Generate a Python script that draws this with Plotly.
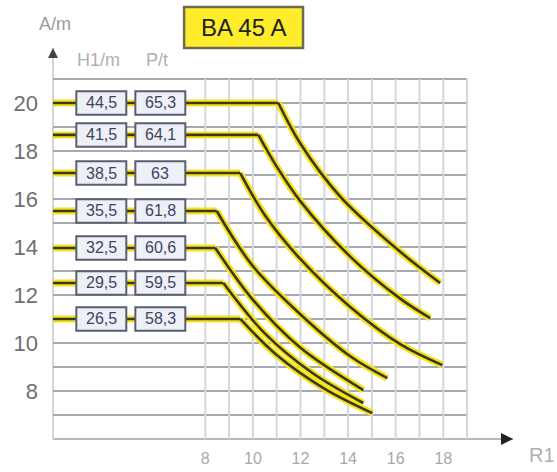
import plotly.graph_objects as go

# Each curve: flat level up to the break point, then a falling branch.
levels = [20.0, 18.67, 17.08, 15.5, 13.96, 12.5, 11.0]
fall_x = [
    [11.07, 12.0, 13.67, 16.19, 17.87],
    [10.23, 11.0, 12.0, 14.09, 16.19, 17.45],
    [9.47, 10.52, 11.99, 14.09, 16.19, 17.96],
    [8.48, 10.0, 11.99, 14.09, 15.65],
    [8.42, 10.0, 12.0, 14.64],
    [8.76, 10.5, 12.5, 14.64],
    [9.47, 11.0, 13.0, 15.02],
]
fall_y = [
    [20.0, 18.3, 16.1, 13.8, 12.5],
    [18.67, 17.35, 15.9, 13.6, 11.85, 11.04],
    [17.08, 15.3, 13.5, 11.5, 9.95, 9.08],
    [15.5, 13.2, 11.2, 9.45, 8.54],
    [13.96, 11.8, 9.8, 8.04],
    [12.5, 10.4, 8.75, 7.5],
    [11.0, 9.5, 8.1, 7.08],
]
h1_labels = ["44,5", "41,5", "38,5", "35,5", "32,5", "29,5", "26,5"]
pt_labels = ["65,3", "64,1", "63", "61,8", "60,6", "59,5", "58,3"]

x_ticks = [8, 10, 12, 14, 16, 18]
y_ticks = [8, 10, 12, 14, 16, 18, 20]

X_MIN, X_MAX = 1.6, 20.93
Y_MIN, Y_MAX = 6.0, 22.29
GRID_X_END = 19
GRID_Y_TOP = 21

YELLOW = "#f4e41c"
DARK = "#3c3620"
FONT = "Liberation Sans"

fig = go.Figure()


def add_line(xs, ys, shape):
    fig.add_trace(go.Scatter(x=xs, y=ys, mode="lines", line_shape=shape,
                             line=dict(color=YELLOW, width=7),
                             hoverinfo="skip", showlegend=False))


def add_core(xs, ys, shape):
    fig.add_trace(go.Scatter(x=xs, y=ys, mode="lines", line_shape=shape,
                             line=dict(color=DARK, width=2.6),
                             hoverinfo="skip", showlegend=False))


for lvl, xs, ys in zip(levels, fall_x, fall_y):
    add_line([X_MIN, xs[0]], [lvl, lvl], "linear")
    add_line(xs, ys, "spline")
for lvl, xs, ys in zip(levels, fall_x, fall_y):
    add_core([X_MIN, xs[0]], [lvl, lvl], "linear")
    add_core(xs, ys, "spline")

shapes = []
# horizontal grid
for v in range(7, GRID_Y_TOP + 1):
    shapes.append(dict(type="line", xref="x", yref="y", x0=X_MIN, x1=GRID_X_END,
                       y0=v, y1=v, line=dict(color="#a8a8b0", width=2), layer="below"))
# vertical grid
for v in range(8, GRID_X_END + 1):
    shapes.append(dict(type="line", xref="x", yref="y", x0=v, x1=v,
                       y0=Y_MIN, y1=GRID_Y_TOP, line=dict(color="#d6d6de", width=2), layer="below"))
# axes
shapes.append(dict(type="line", xref="paper", yref="paper", x0=0, x1=1, y0=0, y1=0,
                   line=dict(color="#b8b8b8", width=2), layer="below"))
shapes.append(dict(type="line", xref="paper", yref="paper", x0=0, x1=0, y0=0, y1=1,
                   line=dict(color="#d4d4d4", width=2), layer="below"))

annotations = []
# value boxes
for lvl, h1, pt in zip(levels, h1_labels, pt_labels):
    for (x0, x1), txt in (((2.58, 4.68), h1), ((5.06, 7.16), pt)):
        shapes.append(dict(type="rect", xref="x", yref="y", x0=x0, x1=x1,
                           y0=lvl - 0.49, y1=lvl + 0.49,
                           fillcolor="#eef0f8", line=dict(color="#5a5e6e", width=2)))
        annotations.append(dict(x=(x0 + x1) / 2, y=lvl, xref="x", yref="y", text=txt,
                                showarrow=False, xanchor="center", yanchor="middle",
                                font=dict(family=FONT, size=16, color="#3e4460")))

# title box
shapes.append(dict(type="rect", xref="paper", yref="paper", x0=0.285, x1=0.5435,
                   y0=1.0, y1=1.105, fillcolor="#ffec2a", line=dict(color="#6e6a50", width=2.5)))
annotations.append(dict(x=0.414, y=1.0525, xref="paper", yref="paper", text="BA 45 A",
                        showarrow=False, xanchor="center", yanchor="middle",
                        font=dict(family=FONT, size=24, color="#222222")))

# axis captions
annotations += [
    dict(x=-0.035, y=1.062, xref="paper", yref="paper", text="A/m", showarrow=False,
         xanchor="left", yanchor="middle",
         font=dict(family=FONT, size=18, color="#9a9a9a")),
    dict(x=0.048, y=0.969, xref="paper", yref="paper", text="H1/m", showarrow=False,
         xanchor="left", yanchor="middle",
         font=dict(family=FONT, size=18, color="#b0b0b0")),
    dict(x=0.198, y=0.969, xref="paper", yref="paper", text="P/t", showarrow=False,
         xanchor="left", yanchor="middle",
         font=dict(family=FONT, size=18, color="#b0b0b0")),
    dict(x=1.03, y=-0.041, xref="paper", yref="paper", text="R1", showarrow=False,
         xanchor="left", yanchor="middle",
         font=dict(family=FONT, size=20, color="#b0b0b0")),
    # arrowheads
    dict(x=1, y=0, xref="paper", yref="paper", ax=-8, ay=0, showarrow=True,
         arrowhead=2, arrowsize=1.2, arrowwidth=2, arrowcolor="#222222", text=""),
    dict(x=0, y=1, xref="paper", yref="paper", ax=0, ay=8, showarrow=True,
         arrowhead=2, arrowsize=1.0, arrowwidth=2, arrowcolor="#444444", text=""),
]

fig.update_layout(
    width=557, height=472,
    margin=dict(l=53, r=44, t=48, b=33, autoexpand=False),
    paper_bgcolor="white", plot_bgcolor="white",
    shapes=shapes, annotations=annotations,
    xaxis=dict(range=[X_MIN, X_MAX], showgrid=False, zeroline=False, showline=False,
               automargin=False, tickvals=x_ticks, ticks="", ticklabelstandoff=8,
               tickfont=dict(family=FONT, size=16, color="#a8a8a8")),
    yaxis=dict(range=[Y_MIN, Y_MAX], showgrid=False, zeroline=False, showline=False,
               automargin=False, tickvals=y_ticks, ticks="", ticklabelstandoff=14,
               tickfont=dict(family=FONT, size=22, color="#707070")),
)

fig.write_html("out.html")
